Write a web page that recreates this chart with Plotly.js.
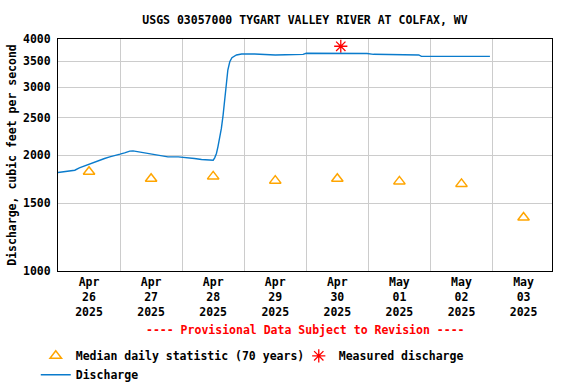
<!DOCTYPE html>
<html>
<head>
<meta charset="utf-8">
<script src="https://cdn.plot.ly/plotly-3.0.1.min.js"></script>
<style>html,body{margin:0;padding:0;background:#fff;}#chart{width:576px;height:384px;}</style>
</head>
<body>
<div id="chart"></div>
<script>
// ---- Data ----
const dischargeTimes = [
  '2025-04-26 00:00','2025-04-26 02:30','2025-04-26 04:30','2025-04-26 06:30','2025-04-26 08:15',
  '2025-04-26 10:15','2025-04-26 11:30','2025-04-26 12:45','2025-04-26 14:00','2025-04-26 16:00',
  '2025-04-26 18:00','2025-04-26 20:00','2025-04-26 22:00','2025-04-27 00:00','2025-04-27 01:45',
  '2025-04-27 03:45','2025-04-27 05:00','2025-04-27 07:00','2025-04-27 09:30','2025-04-27 12:00',
  '2025-04-27 16:00','2025-04-27 18:30','2025-04-27 22:30','2025-04-28 02:15','2025-04-28 04:45',
  '2025-04-28 07:30','2025-04-28 11:15','2025-04-28 12:00','2025-04-28 12:35','2025-04-28 13:15',
  '2025-04-28 13:50','2025-04-28 14:30','2025-04-28 15:10','2025-04-28 15:50','2025-04-28 16:25',
  '2025-04-28 17:05','2025-04-28 17:40','2025-04-28 18:25','2025-04-28 19:15','2025-04-28 21:00',
  '2025-04-28 23:00','2025-04-29 04:00','2025-04-29 06:30','2025-04-29 07:30','2025-04-29 12:00',
  '2025-04-29 16:00','2025-04-29 20:00','2025-04-29 22:45','2025-04-30 00:00','2025-04-30 06:00',
  '2025-04-30 10:30','2025-04-30 18:00','2025-04-30 23:30','2025-05-01 02:00','2025-05-01 08:00',
  '2025-05-01 14:00','2025-05-01 19:30','2025-05-01 20:30','2025-05-02 06:00','2025-05-02 12:00',
  '2025-05-02 18:00','2025-05-02 23:00'
];
const dischargeValues = [
  1801,1808,1816,1826,1852,
  1874,1890,1901,1920,1939,
  1959,1978,1998,2010,2026,
  2047,2050,2038,2026,2010,
  1990,1978,1978,1970,1959,
  1947,1939,1939,1966,2019,
  2100,2208,2344,2538,2804,
  3098,3323,3492,3576,3635,
  3657,3657,3650,3640,3636,
  3640,3640,3648,3672,3672,
  3679,3679,3668,3650,3645,
  3640,3636,3606,3606,3606,
  3604,3606
];

const medianTimes = ['2025-04-26 12:00','2025-04-27 12:00','2025-04-28 12:00','2025-04-29 12:00',
                     '2025-04-30 12:00','2025-05-01 12:00','2025-05-02 12:00','2025-05-03 12:00'];
const medianValues = [1810, 1735, 1760, 1716, 1735, 1708, 1683, 1377];

const measuredTimes = ['2025-04-30 13:20'];
const measuredValues = [3830];

const xTickVals = medianTimes;
const xTickText = ['Apr<br>26<br>2025','Apr<br>27<br>2025','Apr<br>28<br>2025','Apr<br>29<br>2025',
                   'Apr<br>30<br>2025','May<br>01<br>2025','May<br>02<br>2025','May<br>03<br>2025'];
const xGridVals = ['2025-04-27 00:00','2025-04-28 00:00','2025-04-29 00:00','2025-04-30 00:00',
                   '2025-05-01 00:00','2025-05-02 00:00','2025-05-03 00:00'];
const yTickVals = [1000, 1500, 2000, 2500, 3000, 3500, 4000];
const yTickText = ['1000','1500','2000','2500','3000','3500','4000'];

// ---- Chart ----
const FONT = 'DejaVu Sans Mono, monospace';
const baseFont = {family: FONT, size: 11.5, color: '#000', weight: 'bold'};

const traces = [
  {
    x: medianTimes, y: medianValues, type: 'scatter', mode: 'markers',
    name: 'Median daily statistic (70 years)',
    marker: {symbol: 'triangle-up-open', size: 10, color: '#ffa500', line: {width: 1.5, color: '#ffa500'}},
    hoverinfo: 'skip'
  },
  {
    x: measuredTimes, y: measuredValues, type: 'scatter', mode: 'markers',
    name: 'Measured discharge',
    marker: {symbol: 'asterisk-open', size: 11, color: '#ff0000', line: {width: 1.3, color: '#ff0000'}},
    hoverinfo: 'skip'
  },
  {
    x: dischargeTimes, y: dischargeValues, type: 'scatter', mode: 'lines',
    name: 'Discharge',
    line: {color: '#0a7bcc', width: 1.4},
    hoverinfo: 'skip'
  }
];

const layout = {
  width: 576, height: 384,
  margin: {l: 58, r: 24, t: 39, b: 113, autoexpand: false},
  paper_bgcolor: '#fff', plot_bgcolor: '#fff',
  font: baseFont,
  title: {
    text: 'USGS 03057000 TYGART VALLEY RIVER AT COLFAX, WV',
    font: baseFont, x: 0.5, xref: 'paper', xanchor: 'center',
    y: 1 - 20/384, yref: 'container', yanchor: 'middle'
  },
  xaxis: {
    type: 'date',
    range: ['2025-04-26 00:00', '2025-05-03 23:00'],
    tickmode: 'array', tickvals: xTickVals, ticktext: xTickText,
    tickfont: baseFont, ticks: '', showgrid: false,
    minor: {tickmode: 'array', tickvals: xGridVals, showgrid: true, gridcolor: '#cccccc', gridwidth: 1, ticks: ''},
    showline: true, linecolor: '#000', linewidth: 1, mirror: true,
    zeroline: false, fixedrange: true, automargin: false
  },
  yaxis: {
    type: 'log',
    range: [3, Math.log10(4000)],
    tickmode: 'array', tickvals: yTickVals, ticktext: yTickText,
    tickfont: baseFont, ticks: '', ticklabelstandoff: 4,
    showgrid: true, gridcolor: '#cccccc', gridwidth: 1,
    showline: true, linecolor: '#000', linewidth: 1, mirror: true,
    zeroline: false, fixedrange: true, automargin: false,
    title: {text: 'Discharge, cubic feet per second', font: baseFont, standoff: 3}
  },
  showlegend: true,
  legend: {
    orientation: 'h', x: -0.045, xanchor: 'left', y: -0.303, yanchor: 'top',
    entrywidth: 218, entrywidthmode: 'pixels',
    font: baseFont, bgcolor: 'rgba(0,0,0,0)', borderwidth: 0,
    traceorder: 'normal', itemclick: false, itemdoubleclick: false
  },
  annotations: [{
    text: '---- Provisional Data Subject to Revision ----',
    xref: 'paper', yref: 'paper', x: 0.5, y: (271 - 330) / 232,
    xanchor: 'center', yanchor: 'middle', showarrow: false,
    font: {family: FONT, size: 11.5, color: '#ff0000', weight: 'bold'}
  }]
};

Plotly.newPlot('chart', traces, layout, {displayModeBar: false, staticPlot: true});
</script>
</body>
</html>
